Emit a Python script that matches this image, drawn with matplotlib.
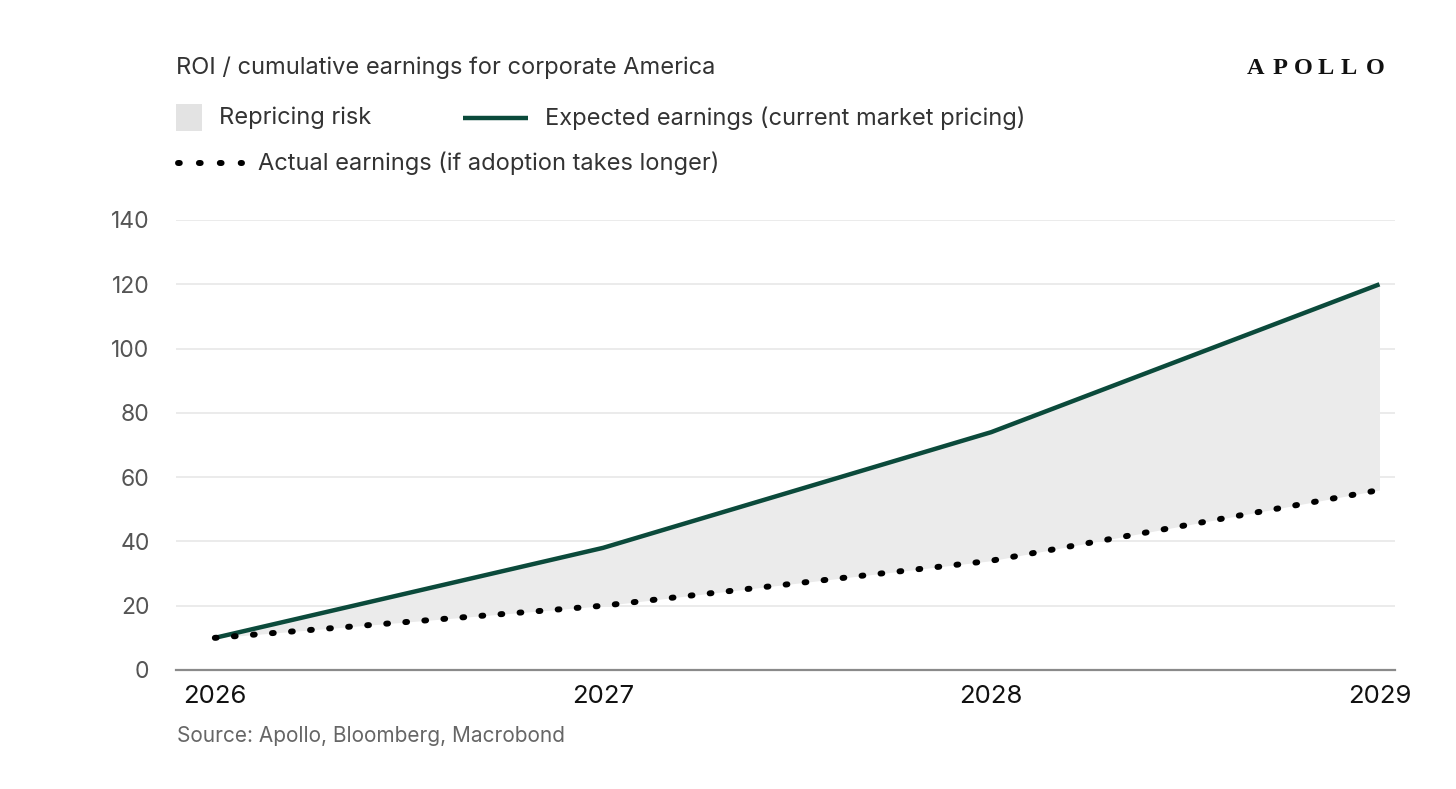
import matplotlib
matplotlib.use("Agg")
import matplotlib.pyplot as plt
from matplotlib.lines import Line2D
from matplotlib.patches import Rectangle

years = [2026, 2027, 2028, 2029]
expected = [10, 38, 74, 120]
actual = [10, 20, 34, 56]
yticks = [0, 20, 40, 60, 80, 100, 120, 140]

title = "ROI / cumulative earnings for corporate America"
lab_fill = "Repricing risk"
lab_exp = "Expected earnings (current market pricing)"
lab_act = "Actual earnings (if adoption takes longer)"
source = "Source: Apollo, Bloomberg, Macrobond"
logo = "APOLLO"

GREEN = "#0b4a3b"
FILL = "#ebebeb"
GRID = "#e8e8e8"
TXT = "#333333"

plt.rcParams['font.family'] = ['Inter', 'DejaVu Sans']

W, H = 1456, 789
fig = plt.figure(figsize=(W/100, H/100), dpi=100)
fig.patch.set_facecolor("white")

def fx(px): return px / W
def fy(py): return 1 - py / H

DOT_LW = 4.3
DOT_STYLE = (0, (0.3, 2.9))

ax = fig.add_axes([fx(176), fy(670), fx(1395) - fx(176), fy(220) - fy(670)])
ax.fill_between(years, actual, expected, color=FILL, lw=0, zorder=1)
ax.plot(years, expected, color=GREEN, lw=3.2, solid_capstyle='butt', zorder=3)
ax.plot(years, actual, color="black", lw=DOT_LW, linestyle=DOT_STYLE,
        dash_capstyle='round', zorder=3)

ax.set_xlim(2025.9, 2029.04)
ax.set_ylim(0, 140)
ax.set_yticks(yticks)
ax.set_yticklabels([str(v) for v in yticks])
ax.set_xticks(years)
ax.set_xticklabels([str(y) for y in years])
ax.grid(axis='y', color=GRID, lw=1.2, zorder=0)
ax.set_axisbelow(True)
for s in ['top', 'right', 'left']:
    ax.spines[s].set_visible(False)
ax.spines['bottom'].set_color("#8a8a8a")
ax.spines['bottom'].set_linewidth(1.6)
ax.spines['bottom'].set_zorder(4)
ax.tick_params(axis='y', length=0, pad=19, labelsize=16.5, labelcolor="#555555")
ax.tick_params(axis='x', length=0, pad=11, labelsize=18.5, labelcolor="#111111")

# Title
fig.text(fx(176), fy(68), title, fontsize=17, color=TXT, va='center', ha='left')
# Logo, letter-spaced
logo_x = [1256, 1280, 1303, 1326, 1349, 1375]
for ch, x in zip(logo, logo_x):
    fig.text(fx(x), fy(68), ch, fontsize=17.5, color="#111111",
             family=['Liberation Serif', 'DejaVu Serif'], fontweight='bold',
             va='center', ha='center')

# Legend (manual)
fig.add_artist(Rectangle((fx(176), fy(131)), fx(202) - fx(176), fy(104) - fy(131),
                         transform=fig.transFigure, facecolor="#e3e3e3", edgecolor='none'))
fig.text(fx(219), fy(118), lab_fill, fontsize=17, color=TXT, va='center', ha='left')
fig.add_artist(Line2D([fx(463), fx(528)], [fy(118), fy(118)], transform=fig.transFigure,
                      color=GREEN, lw=3.2, solid_capstyle='butt'))
fig.text(fx(545), fy(118), lab_exp, fontsize=17, color=TXT, va='center', ha='left')
fig.add_artist(Line2D([fx(178), fx(242)], [fy(163), fy(163)], transform=fig.transFigure,
                      color="black", lw=DOT_LW, linestyle=(0, (0.3, 3.2)),
                      dash_capstyle='round'))
fig.text(fx(258), fy(163), lab_act, fontsize=17, color=TXT, va='center', ha='left')

# Source
fig.text(fx(177), fy(736), source, fontsize=15, color="#666666", va='center', ha='left')

fig.savefig("out.png", dpi=100, facecolor="white")
